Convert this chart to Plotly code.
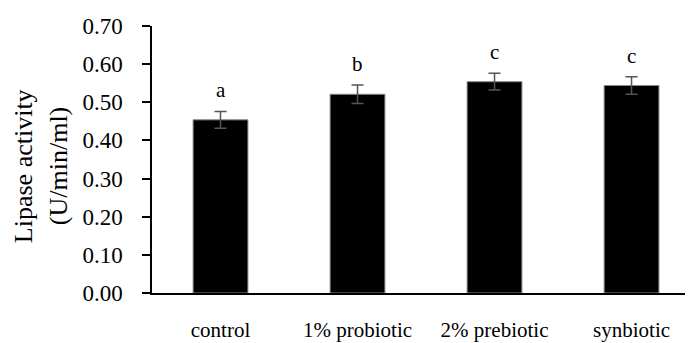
import plotly.graph_objects as go

categories = ["control", "1% probiotic", "2% prebiotic", "synbiotic"]
values = [0.454, 0.521, 0.554, 0.544]
errors = [0.022, 0.024, 0.022, 0.023]
letters = ["a", "b", "c", "c"]
y_ticks = [0.0, 0.1, 0.2, 0.3, 0.4, 0.5, 0.6, 0.7]
y_tick_labels = [f"{v:.2f}" for v in y_ticks]

FONT = "Liberation Serif"

# page body has an 8px margin; compensate so the plot lands where the reference has it
OFF = 8
W, H = 693 - OFF, 343 - OFF
L, T, B, R = 152 - OFF, 26 - OFF, 50, 2
PW = W - L - R

fig = go.Figure()
fig.add_trace(go.Bar(
    x=list(range(len(categories))),
    y=values,
    width=0.40,
    marker=dict(color="black", line=dict(color="#888888", width=1)),
    error_y=dict(type="data", array=errors, visible=True,
                 color="#555555", thickness=1.5, width=6),
))

for i, (v, e, l) in enumerate(zip(values, errors, letters)):
    fig.add_annotation(x=i, y=v + e, text=l, showarrow=False,
                       yanchor="bottom", yshift=7,
                       font=dict(family=FONT, size=21, color="black"))

fig.add_annotation(xref="paper", yref="paper", x=-(152 - 23) / PW, y=0.475,
                   text="Lipase activity", textangle=-90, showarrow=False,
                   xanchor="center", yanchor="middle",
                   font=dict(family=FONT, size=26, color="black"))
fig.add_annotation(xref="paper", yref="paper", x=-(152 - 58) / PW, y=0.475,
                   text="(U/min/ml)", textangle=-90, showarrow=False,
                   xanchor="center", yanchor="middle",
                   font=dict(family=FONT, size=26, color="black"))

fig.update_layout(
    width=W, height=H,
    margin=dict(l=L, r=R, t=T, b=B),
    paper_bgcolor="white", plot_bgcolor="white",
    showlegend=False,
    font=dict(family=FONT, color="black"),
    xaxis=dict(
        range=[-0.5, 3.434],
        tickmode="array",
        tickvals=list(range(len(categories))),
        ticktext=categories,
        showline=True, linecolor="black", linewidth=1.5,
        ticks="", showgrid=False, zeroline=False,
        tickfont=dict(family=FONT, size=21, color="black"),
        ticklabelstandoff=17,
        automargin=False,
    ),
    yaxis=dict(
        range=[0, 0.7],
        tickmode="array",
        tickvals=y_ticks,
        ticktext=y_tick_labels,
        showline=True, linecolor="black", linewidth=1.5,
        ticks="outside", ticklen=8, tickcolor="black", tickwidth=1.5,
        showgrid=False, zeroline=False,
        tickfont=dict(family=FONT, size=23, color="black"),
        ticklabelstandoff=15,
        automargin=False,
    ),
)

fig.write_html("out.html")
